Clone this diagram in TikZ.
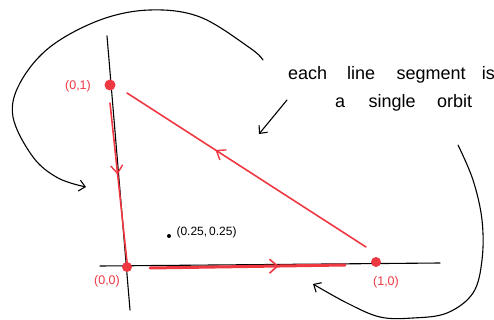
\documentclass[tikz,border=0pt]{standalone}
\usepackage{fontspec}
\setmainfont{Liberation Sans}
\usetikzlibrary{arrows.meta,decorations.markings}
\definecolor{pen}{RGB}{238,56,66}
\tikzset{
  axis/.style={black, line width=1.1pt, line cap=round},
  ink/.style={black, line width=1.1pt, line cap=round},
  orbit/.style={pen, line width=1.6pt, line cap=round},
  dot/.style={circle, fill=pen, inner sep=0pt, minimum size=#1},
  redlab/.style={text=pen, font=\fontsize{12.5}{14}\selectfont},
  midarrow/.style={postaction={decorate, decoration={markings,
      mark=at position #1 with {\arrow{Straight Barb[length=8pt,width=12pt,line width=1.4pt]}}}}},
  bigarrow/.style={postaction={decorate, decoration={markings,
      mark=at position #1 with {\arrow{Straight Barb[length=8pt,width=14pt,line width=1.6pt]}}}}},
  tipbarb/.style={-{Straight Barb[length=6pt,width=11pt,line width=1.1pt]}}
}
\begin{document}
\begin{tikzpicture}[x=1pt,y=-1pt]
\useasboundingbox (0,0) rectangle (494,320);
% axes
\coordinate (vtop) at (107,36);
\coordinate (vbot) at (130,310);
\coordinate (hl) at (100,266);
\coordinate (hr) at (440,263);
\draw[axis] (vtop) -- (vbot);
\draw[axis] (hl) -- (hr);
% fixed points
\node[dot=11pt] (p01) at (110,85) {};
\node[dot=10pt] (p00) at (127,267) {};
\node[dot=10pt] (p10) at (376,262) {};
\node[redlab] (l01) at (78,86) {(0,1)};
\node[redlab] (l00) at (107,281) {(0,0)};
\node[redlab] (l10) at (386,282) {(1,0)};
% orbits
\coordinate (va) at (110,103);
\coordinate (vb) at (127,262);
\coordinate (ha) at (150,268);
\coordinate (hb) at (345,265);
\coordinate (da) at (366,247);
\coordinate (db) at (127,93);
\draw[orbit, midarrow=0.45] (va) -- (vb);
\draw[orbit, line width=3pt, bigarrow=0.66] (ha) -- (hb);
\draw[orbit, midarrow=0.63] (da) -- (db);
% interior point
\node[circle, fill=black, inner sep=0pt, minimum size=4pt] (q) at (169,236) {};
\node[anchor=west, font=\fontsize{12}{14}\selectfont] (ql) at (173,232) {(0.25,\,0.25)};
% annotation text
\node[anchor=base west, font=\fontsize{18}{21}\selectfont, inner sep=0pt] (t1) at (288,80) {each\hspace{1.1em}line\hspace{1.2em}segment\hspace{0.9em}is};
\node[anchor=base west, font=\fontsize{18}{21}\selectfont, inner sep=0pt] (t2) at (335,108) {a\hspace{1.3em}single\hspace{1.2em}orbit};
% annotation arrows
\coordinate (sa) at (287,100);
\coordinate (sb) at (259,134);
\draw[ink, tipbarb] (sa) -- (sb);
\coordinate (c0) at (263,60);
\coordinate (c9) at (86,187);
\draw[ink, tipbarb] plot[smooth, tension=0.6] coordinates {(c0) (250,48) (200,17) (150,10) (100,20) (50,47) (20,83) (13,117) (33,157) (58,178) (c9)};
\coordinate (r0) at (458,145);
\coordinate (r9) at (313,284);
\draw[ink, tipbarb] plot[smooth, tension=0.6] coordinates {(r0) (473,180) (482,220) (482,260) (473,293) (447,313) (413,318) (380,317) (347,303) (r9)};
\end{tikzpicture}
\end{document}
